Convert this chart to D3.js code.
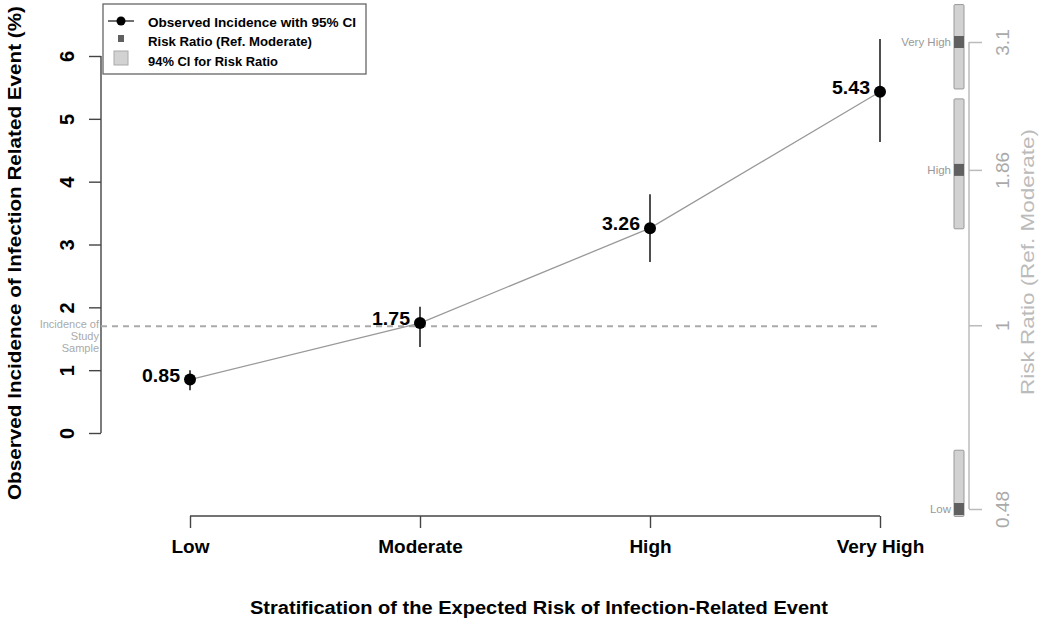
<!DOCTYPE html>
<html><head><meta charset="utf-8">
<script src="https://cdn.jsdelivr.net/npm/d3@7"></script>
<style>body{margin:0;background:#fff}svg{display:block;font-family:"Liberation Sans",Arial,sans-serif}</style>
</head><body><svg id="c" width="1050" height="621"></svg>
<script>
const categories = ["Low","Moderate","High","Very High"];
const incidence = [0.85,1.75,3.26,5.43];
const ciLow = [0.68,1.37,2.72,4.63];
const ciHigh = [1.00,2.01,3.80,6.27];
const studyIncidence = 1.70;
const yTicks = [0,1,2,3,4,5,6];
const rrCategories = ["Low","High","Very High"];
const rrValues = [0.48,1.86,3.1];
const rrLow = [0.466,1.47,2.57];
const rrHigh = [0.607,2.47,3.60];
const rrTicks = [0.48,1,1.86,3.1];
const legendLabels = ["Observed Incidence with 95% CI","Risk Ratio (Ref. Moderate)","94% CI for Risk Ratio"];

const svg = d3.select("#c");
const x = d3.scalePoint().domain(categories).range([190,880]);
const y = d3.scaleLinear().domain([0,6]).range([433,56]);
const yr = d3.scaleLog().domain([0.48,3.1]).range([509,42]);

// left axis
const la = svg.append("g").attr("transform","translate(101,0)")
  .call(d3.axisLeft(y).tickValues(yTicks).tickSize(12).tickFormat(d3.format("d")));
la.select(".domain").attr("stroke","#444").attr("stroke-width",1.4).attr("d","M0,"+y(0)+"V"+y(6));
la.selectAll(".tick line").attr("stroke","#444").attr("stroke-width",1.4);
la.selectAll(".tick text").attr("fill","#000").style("font-size","20px").attr("font-weight","bold")
  .attr("x",0).attr("text-anchor","middle")
  .attr("transform","translate(-34,0) rotate(-90)").attr("dy","0.35em");

// x axis
const xa = svg.append("g").attr("transform","translate(0,516)")
  .call(d3.axisBottom(x).tickSize(12));
xa.select(".domain").attr("stroke","#444").attr("stroke-width",1.4).attr("d","M"+x("Low")+",0H"+x("Very High"));
xa.selectAll(".tick line").attr("stroke","#444").attr("stroke-width",1.4);
xa.selectAll(".tick text").attr("fill","#000").style("font-size","19px").attr("font-weight","bold").attr("y",30).attr("dy","0.35em");

// axis titles
svg.append("text").attr("transform","translate(21,253) rotate(-90)").attr("text-anchor","middle")
  .attr("font-size",19).attr("font-weight","bold").attr("textLength",494).attr("lengthAdjust","spacingAndGlyphs")
  .text("Observed Incidence of Infection Related Event (%)");
svg.append("text").attr("x",539).attr("y",614).attr("text-anchor","middle")
  .attr("font-size",18).attr("font-weight","bold").attr("textLength",578).attr("lengthAdjust","spacingAndGlyphs")
  .text("Stratification of the Expected Risk of Infection-Related Event");

// study incidence dashed line
svg.append("line").attr("x1",101).attr("x2",878).attr("y1",y(studyIncidence)).attr("y2",y(studyIncidence))
  .attr("stroke","#aaa").attr("stroke-width",2).attr("stroke-dasharray","6,5");
const sl = svg.append("text").attr("text-anchor","end").attr("fill","#aaa").attr("font-size",11);
["Incidence of","Study","Sample"].forEach((t,i)=>sl.append("tspan").attr("x",99).attr("y",y(studyIncidence)+2+i*12).text(t));

// right axis
const ra = svg.append("g").attr("transform","translate(969,0)")
  .call(d3.axisRight(yr).tickValues(rrTicks).tickSize(13).tickFormat(d=>String(d)));
ra.select(".domain").attr("stroke","#bbb").attr("stroke-width",1.5).attr("d","M0,"+yr(0.48)+"V"+yr(3.1));
ra.selectAll(".tick line").attr("stroke","#bbb").attr("stroke-width",1.5);
ra.selectAll(".tick text").attr("fill","#aaa").style("font-size","19px").attr("x",0)
  .attr("text-anchor","middle").attr("transform","translate(33,0) rotate(-90)").attr("dy","0.35em");
svg.append("text").attr("transform","translate(1034,262) rotate(-90)").attr("text-anchor","middle")
  .attr("fill","#bbb").attr("font-size",19).attr("textLength",266).attr("lengthAdjust","spacingAndGlyphs")
  .text("Risk Ratio (Ref. Moderate)");

// RR bars
const rr = svg.append("g");
rrCategories.forEach((c,i)=>{
  rr.append("rect").attr("x",954).attr("width",10).attr("y",yr(rrHigh[i])).attr("height",yr(rrLow[i])-yr(rrHigh[i]))
    .attr("fill","#d2d2d2").attr("stroke","#999").attr("stroke-width",1).attr("rx",1);
  const cy = yr(rrValues[i]);
  const top = Math.max(cy-6, yr(rrHigh[i])), bot = Math.min(cy+6, yr(rrLow[i]));
  rr.append("rect").attr("x",954).attr("width",10).attr("y",top).attr("height",bot-top).attr("fill","#606060");
  rr.append("text").attr("x",951).attr("y",cy).attr("dy","0.35em").attr("text-anchor","end")
    .attr("fill","#999").attr("font-size",11.5).text(c);
});

// connecting line
svg.append("path").datum(incidence).attr("fill","none").attr("stroke","#999").attr("stroke-width",1.3)
  .attr("d",d3.line().x((d,i)=>x(categories[i])).y(d=>y(d)));
// error bars
svg.append("g").selectAll("line").data(categories).join("line")
  .attr("x1",d=>x(d)).attr("x2",d=>x(d)).attr("y1",(d,i)=>y(ciLow[i])).attr("y2",(d,i)=>y(ciHigh[i]))
  .attr("stroke","#222").attr("stroke-width",1.6);
// points
svg.append("g").selectAll("circle").data(categories).join("circle")
  .attr("cx",d=>x(d)).attr("cy",(d,i)=>y(incidence[i])).attr("r",6).attr("fill","#000");
// value labels
svg.append("g").selectAll("text").data(categories).join("text")
  .attr("x",d=>x(d)-10).attr("y",(d,i)=>y(incidence[i])-4).attr("dy","0.35em").attr("text-anchor","end")
  .attr("font-size",18).attr("font-weight","bold").attr("textLength",38).attr("lengthAdjust","spacingAndGlyphs")
  .text((d,i)=>d3.format(".2f")(incidence[i]));

// legend
const lg = svg.append("g");
lg.append("rect").attr("x",103).attr("y",4).attr("width",263).attr("height",70).attr("fill","#fff")
  .attr("stroke","#666").attr("stroke-width",1.3);
lg.append("line").attr("x1",108).attr("x2",134).attr("y1",21).attr("y2",21).attr("stroke","#222").attr("stroke-width",1.3);
lg.append("circle").attr("cx",121).attr("cy",21).attr("r",4.5).attr("fill","#000");
lg.append("rect").attr("x",118).attr("y",35).attr("width",6).attr("height",7).attr("fill","#606060");
lg.append("rect").attr("x",114).attr("y",51).attr("width",14).attr("height",14).attr("fill","#d2d2d2").attr("stroke","#aaa");
const lw = [208,164,130];
legendLabels.forEach((t,i)=>lg.append("text").attr("x",148).attr("y",22+i*19.5).attr("dy","0.35em")
  .attr("font-size",13.5).attr("font-weight","bold").attr("textLength",lw[i]).attr("lengthAdjust","spacingAndGlyphs").text(t));
</script></body></html>
